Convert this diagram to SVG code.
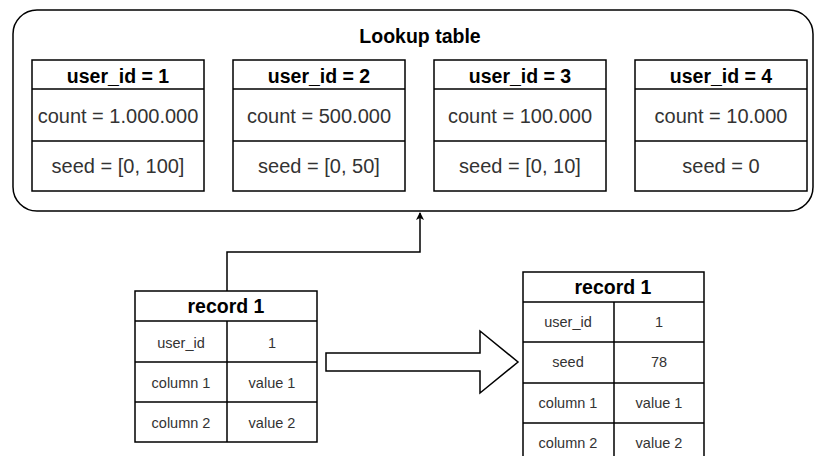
<svg xmlns="http://www.w3.org/2000/svg" width="815" height="456" viewBox="0 0 815 456">
  <style>
    .box { fill: #fff; stroke: #000; stroke-width: 1.5; }
    .ln { fill: none; stroke: #000; stroke-width: 1.5; }
    .hd { font-family: "Liberation Sans", Arial, sans-serif; font-weight: bold; font-size: 19.5px; fill: #000; text-anchor: middle; }
    .tx { font-family: "Liberation Sans", Arial, sans-serif; font-size: 20px; fill: #333; text-anchor: middle; }
    .sm { font-family: "Liberation Sans", Arial, sans-serif; font-size: 14.5px; fill: #333; text-anchor: middle; }
  </style>
  <defs>
    <marker id="arr" markerWidth="8" markerHeight="8" refX="7" refY="4" orient="auto" markerUnits="userSpaceOnUse">
      <path d="M0,0 L8,4 L0,8 L2,4 Z" fill="#000"/>
    </marker>
  </defs>
  <rect width="815" height="456" fill="#fff"/>

  <!-- lookup container -->
  <g id="lookup-table">
    <rect class="box" x="13" y="10" width="800" height="201" rx="24" ry="24"/>
    <text class="hd" x="420" y="43">Lookup table</text>
  </g>

  <g id="user1">
    <rect class="box" x="32" y="60" width="172" height="131"/>
    <path class="ln" d="M32,89 H204 M32,141 H204"/>
    <text class="hd" x="118" y="83">user_id = 1</text>
    <text class="tx" x="118" y="123">count = 1.000.000</text>
    <text class="tx" x="118" y="173">seed = [0, 100]</text>
  </g>
  <g id="user2">
    <rect class="box" x="233" y="60" width="172" height="131"/>
    <path class="ln" d="M233,89 H405 M233,141 H405"/>
    <text class="hd" x="319" y="83">user_id = 2</text>
    <text class="tx" x="319" y="123">count = 500.000</text>
    <text class="tx" x="319" y="173">seed = [0, 50]</text>
  </g>
  <g id="user3">
    <rect class="box" x="434" y="60" width="172" height="131"/>
    <path class="ln" d="M434,89 H606 M434,141 H606"/>
    <text class="hd" x="520" y="83">user_id = 3</text>
    <text class="tx" x="520" y="123">count = 100.000</text>
    <text class="tx" x="520" y="173">seed = [0, 10]</text>
  </g>
  <g id="user4">
    <rect class="box" x="635" y="60" width="172" height="131"/>
    <path class="ln" d="M635,89 H807 M635,141 H807"/>
    <text class="hd" x="721" y="83">user_id = 4</text>
    <text class="tx" x="721" y="123">count = 10.000</text>
    <text class="tx" x="721" y="173">seed = 0</text>
  </g>

  <g id="record-in">
    <rect class="box" x="135" y="291" width="182" height="151"/>
    <path class="ln" d="M135,321 H317 M135,362 H317 M135,402 H317 M227,321 V442"/>
    <text class="hd" x="226" y="313">record 1</text>
    <text class="sm" x="181" y="348">user_id</text>
    <text class="sm" x="272" y="348">1</text>
    <text class="sm" x="181" y="388">column 1</text>
    <text class="sm" x="272" y="388">value 1</text>
    <text class="sm" x="181" y="428">column 2</text>
    <text class="sm" x="272" y="428">value 2</text>
  </g>

  <g id="record-out">
    <rect class="box" x="523" y="272" width="181" height="191"/>
    <path class="ln" d="M523,302 H704 M523,342 H704 M523,383 H704 M523,423 H704 M614,302 V463"/>
    <text class="hd" x="613" y="294">record 1</text>
    <text class="sm" x="568" y="327">user_id</text>
    <text class="sm" x="659" y="327">1</text>
    <text class="sm" x="568" y="367">seed</text>
    <text class="sm" x="659" y="367">78</text>
    <text class="sm" x="568" y="408">column 1</text>
    <text class="sm" x="659" y="408">value 1</text>
    <text class="sm" x="568" y="448">column 2</text>
    <text class="sm" x="659" y="448">value 2</text>
  </g>

  <g id="connectors">
    <path class="ln" d="M227,291 V252 H420 V213" stroke-width="1" marker-end="url(#arr)"/>
    <path class="box" d="M326,353 H480 V331 L518,362 L480,393 V371 H326 Z"/>
  </g>
</svg>
